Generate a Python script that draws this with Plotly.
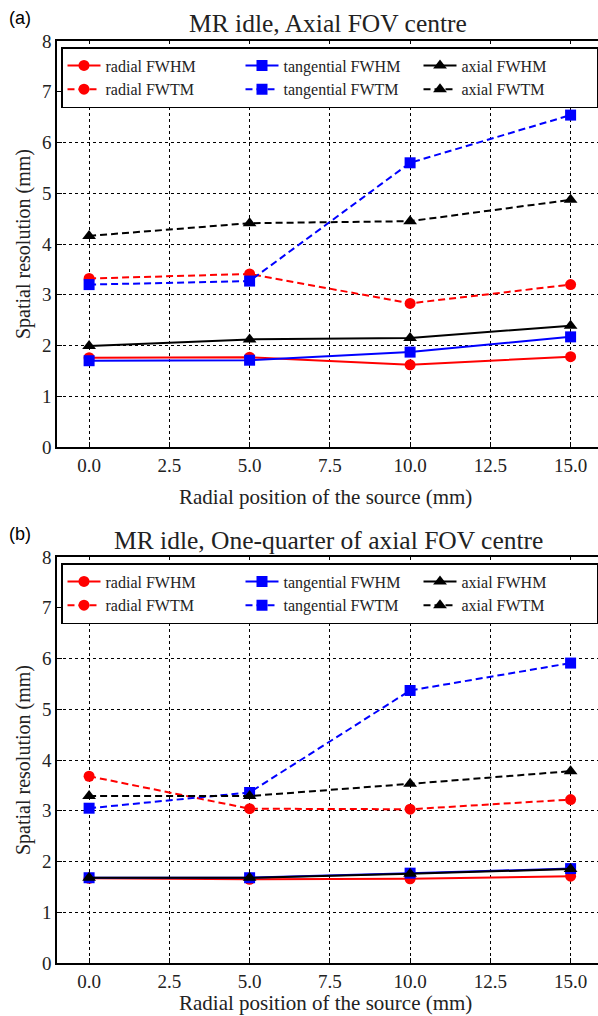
import plotly.graph_objects as go

x_pos = [0.0, 5.0, 10.0, 15.0]

# Panel (a): MR idle, Axial FOV centre
a_radial_fwhm = [1.76, 1.77, 1.62, 1.78]
a_radial_fwtm = [3.32, 3.41, 2.83, 3.20]
a_tang_fwhm = [1.70, 1.71, 1.87, 2.17]
a_tang_fwtm = [3.20, 3.27, 5.60, 6.54]
a_axial_fwhm = [1.99, 2.12, 2.15, 2.39]
a_axial_fwtm = [4.16, 4.41, 4.45, 4.87]

# Panel (b): MR idle, One-quarter of axial FOV centre
b_radial_fwhm = [1.67, 1.65, 1.66, 1.71]
b_radial_fwtm = [3.68, 3.04, 3.03, 3.22]
b_tang_fwhm = [1.68, 1.68, 1.77, 1.86]
b_tang_fwtm = [3.05, 3.36, 5.37, 5.91]
b_axial_fwhm = [1.68, 1.68, 1.76, 1.85]
b_axial_fwtm = [3.29, 3.29, 3.53, 3.78]

x_ticks = [0.0, 2.5, 5.0, 7.5, 10.0, 12.5, 15.0]
x_tick_text = ["0.0", "2.5", "5.0", "7.5", "10.0", "12.5", "15.0"]
y_ticks = [0, 1, 2, 3, 4, 5, 6, 7, 8]

titles = ["MR idle, Axial FOV centre", "MR idle, One-quarter of axial FOV centre"]
panel_labels = ["(a)", "(b)"]
x_title = "Radial position of the source (mm)"
y_title = "Spatial resolution (mm)"

names = ["radial FWHM", "tangential FWHM", "axial FWHM",
         "radial FWTM", "tangential FWTM", "axial FWTM"]
colors = ["#ff0000", "#0000ff", "#000000", "#ff0000", "#0000ff", "#000000"]
symbols = ["circle", "square", "triangle-up", "circle", "square", "triangle-up"]
dashes = ["solid", "solid", "solid", "7px,4px", "7px,4px", "7px,4px"]

W, H = 598, 1016
SERIF = "Liberation Serif"

fig = go.Figure()

panels = [
    [a_radial_fwhm, a_tang_fwhm, a_axial_fwhm, a_radial_fwtm, a_tang_fwtm, a_axial_fwtm],
    [b_radial_fwhm, b_tang_fwhm, b_axial_fwhm, b_radial_fwtm, b_tang_fwtm, b_axial_fwtm],
]

# pixel layout
plot_left, plot_right = 57, 598
tops = [41, 557]
bottoms = [447, 963]
title_y = [24, 540]
label_y = [18, 534]
xtitle_y = [497, 1003]

for p, series in enumerate(panels):
    xa = "x" if p == 0 else "x2"
    ya = "y" if p == 0 else "y2"
    lg = "legend" if p == 0 else "legend2"
    for i, vals in enumerate(series):
        fig.add_trace(go.Scatter(
            x=x_pos, y=vals, name=names[i], mode="lines+markers",
            line=dict(color=colors[i], width=2, dash=dashes[i]),
            marker=dict(symbol=symbols[i], size=11 if symbols[i] != "triangle-up" else 12,
                        color=colors[i], line=dict(width=0)),
            xaxis=xa, yaxis=ya, legend=lg, showlegend=True,
        ))

x_range = [-1.0, -1.0 + (plot_right - plot_left) / 32.1]

axis_common = dict(
    showgrid=True, gridcolor="black", griddash="dot", gridwidth=1,
    showline=True, linecolor="black", linewidth=1.5,
    ticks="inside", ticklen=5, tickcolor="black",
    zeroline=False,
    tickfont=dict(family=SERIF, size=19, color="#222"),
    automargin=False,
)

layout = dict(
    width=W, height=H,
    margin=dict(l=0, r=0, t=0, b=0),
    paper_bgcolor="white", plot_bgcolor="white",
    showlegend=True,
    annotations=[],
)

for p in range(2):
    xk = "xaxis" if p == 0 else "xaxis2"
    yk = "yaxis" if p == 0 else "yaxis2"
    dom_y = [1 - bottoms[p] / H, 1 - tops[p] / H]
    layout[xk] = dict(axis_common, domain=[plot_left / W, 1.0], range=x_range,
                      tickmode="array", tickvals=x_ticks, ticktext=x_tick_text,
                      mirror=True, anchor="y" if p == 0 else "y2")
    layout[yk] = dict(axis_common, domain=dom_y, range=[0, 8],
                      tickmode="array", tickvals=y_ticks, mirror=False,
                      anchor="x" if p == 0 else "x2")
    lgk = "legend" if p == 0 else "legend2"
    layout[lgk] = dict(
        orientation="h", x=64 / W, y=1 - (tops[p] + 6) / H,
        xanchor="left", yanchor="top",
        bgcolor="white", bordercolor="black", borderwidth=1.5,
        font=dict(family=SERIF, size=16, color="#222"),
        entrywidth=130, tracegroupgap=0, itemwidth=33,
    )
    layout["annotations"].append(dict(
        text=titles[p], x=328 / W, y=1 - title_y[p] / H,
        xref="paper", yref="paper", showarrow=False, xanchor="center", yanchor="middle",
        font=dict(family=SERIF, size=25.5, color="#222")))
    layout["annotations"].append(dict(
        text=panel_labels[p], x=20 / W, y=1 - label_y[p] / H,
        xref="paper", yref="paper", showarrow=False, xanchor="center", yanchor="middle",
        font=dict(family="Liberation Sans", size=18, color="black")))
    layout["annotations"].append(dict(
        text=x_title, x=325 / W, y=1 - xtitle_y[p] / H,
        xref="paper", yref="paper", showarrow=False, xanchor="center", yanchor="middle",
        font=dict(family=SERIF, size=21, color="#222")))
    layout["annotations"].append(dict(
        text=y_title, x=23 / W, y=1 - (tops[p] + bottoms[p]) / 2 / H,
        xref="paper", yref="paper", showarrow=False, xanchor="center", yanchor="middle",
        textangle=-90,
        font=dict(family=SERIF, size=20, color="#222")))

fig.update_layout(**layout)
fig.write_html("out.html", config={"displayModeBar": False},
               post_script="document.body.style.margin='0';")
